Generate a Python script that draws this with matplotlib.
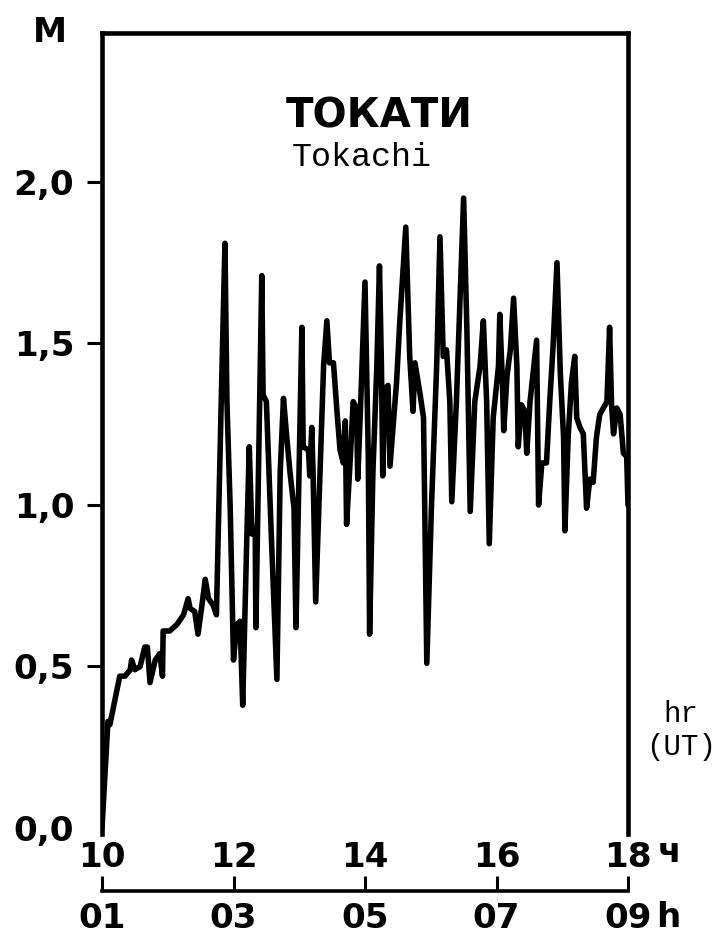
import matplotlib
matplotlib.use("Agg")
import matplotlib.pyplot as plt
from matplotlib import font_manager

# ---------------- data ----------------
hours_local = [
    10.00, 10.09, 10.12, 10.27, 10.35, 10.43, 10.45, 10.50, 10.58, 10.65, 10.69, 10.73,
    10.81, 10.88, 10.92, 10.93, 11.03, 11.14, 11.24, 11.31, 11.34, 11.41, 11.46, 11.52,
    11.57, 11.62, 11.69, 11.74, 11.82, 11.87, 11.90, 11.95, 12.00, 12.05, 12.10, 12.14,
    12.20, 12.24, 12.28, 12.33, 12.34, 12.43, 12.45, 12.50, 12.58, 12.66, 12.71, 12.76,
    12.81, 12.86, 12.92, 12.95, 13.04, 13.06, 13.14, 13.16, 13.19, 13.21, 13.25, 13.37,
    13.42, 13.46, 13.52, 13.57, 13.62, 13.67, 13.70, 13.72, 13.77, 13.82, 13.87, 13.89,
    13.93, 14.00, 14.05, 14.07, 14.12, 14.18, 14.22, 14.25, 14.27, 14.30, 14.35, 14.38,
    14.48, 14.53, 14.62, 14.68, 14.73, 14.76, 14.84, 14.89, 14.94, 15.01, 15.09, 15.14,
    15.19, 15.24, 15.29, 15.32, 15.39, 15.50, 15.55, 15.60, 15.67, 15.75, 15.80, 15.85,
    15.89, 15.95, 16.03, 16.05, 16.09, 16.11, 16.16, 16.21, 16.26, 16.31, 16.33, 16.38,
    16.43, 16.46, 16.51, 16.61, 16.64, 16.69, 16.76, 16.81, 16.86, 16.92, 16.97, 17.02,
    17.04, 17.09, 17.14, 17.19, 17.22, 17.27, 17.32, 17.37, 17.42, 17.47, 17.52, 17.57,
    17.68, 17.72, 17.75, 17.78, 17.83, 17.88, 17.93, 17.98, 18.00,
]
m_values = [
    0.00, 0.33, 0.32, 0.47, 0.47, 0.49, 0.52, 0.49, 0.50, 0.56, 0.56, 0.45,
    0.52, 0.54, 0.47, 0.61, 0.61, 0.63, 0.66, 0.71, 0.68, 0.67, 0.60, 0.69,
    0.77, 0.71, 0.69, 0.66, 1.38, 1.81, 1.32, 0.99, 0.52, 0.63, 0.64, 0.38,
    0.88, 1.18, 0.91, 0.93, 0.62, 1.71, 1.34, 1.32, 0.88, 0.46, 1.10, 1.33,
    1.21, 1.10, 0.99, 0.62, 1.55, 1.18, 1.17, 1.09, 1.24, 1.10, 0.70, 1.43,
    1.57, 1.44, 1.44, 1.30, 1.17, 1.13, 1.26, 0.94, 1.12, 1.32, 1.30, 1.08,
    1.29, 1.69, 1.15, 0.60, 1.10, 1.43, 1.74, 1.43, 1.09, 1.36, 1.37, 1.12,
    1.38, 1.57, 1.86, 1.46, 1.29, 1.44, 1.34, 1.27, 0.51, 0.99, 1.43, 1.83,
    1.46, 1.48, 1.32, 1.01, 1.32, 1.95, 1.54, 0.98, 1.32, 1.43, 1.57, 1.32,
    0.88, 1.27, 1.43, 1.59, 1.38, 1.23, 1.40, 1.48, 1.64, 1.43, 1.18, 1.31,
    1.29, 1.16, 1.32, 1.51, 1.00, 1.13, 1.13, 1.32, 1.49, 1.75, 1.41, 1.21,
    0.92, 1.21, 1.38, 1.46, 1.27, 1.24, 1.22, 0.99, 1.08, 1.07, 1.21, 1.28,
    1.32, 1.55, 1.31, 1.22, 1.30, 1.28, 1.16, 1.15, 1.00,
]
y_ticks = [0.0, 0.5, 1.0, 1.5, 2.0]
y_tick_labels = ["0,0", "0,5", "1,0", "1,5", "2,0"]
x_ticks_local = [10, 12, 14, 16, 18]
x_tick_labels_local = ["10", "12", "14", "16", "18"]
x_ticks_ut = [1, 3, 5, 7, 9]
x_tick_labels_ut = ["01", "03", "05", "07", "09"]
title_ru = "ТОКАТИ"
title_en = "Tokachi"
y_label = "M"

# ---------------- fonts ----------------
available = {f.name for f in font_manager.fontManager.ttflist}
if "Liberation Sans Narrow" in available:
    HAND = ["Liberation Sans Narrow", "DejaVu Sans"]
    hs = 1.0
else:
    HAND = ["DejaVu Sans"]
    hs = 0.82
MONO = ["Liberation Mono", "DejaVu Sans Mono"]

W, H = 722, 938
fig = plt.figure(figsize=(W / 100, H / 100), dpi=100)
fig.patch.set_facecolor("white")

ax_left, ax_right, ax_top, ax_bot = 102, 628, 33, 834
ax = fig.add_axes([ax_left / W, 1 - ax_bot / H, (ax_right - ax_left) / W, (ax_bot - ax_top) / H])
ax.plot(hours_local, m_values, color="black", lw=4.0, solid_joinstyle="round",
        solid_capstyle="round")

ax.set_xlim(10, 18)
ax.set_ylim(-0.0186, 2.461)

for side in ("left", "right", "top"):
    ax.spines[side].set_linewidth(3.3)
    ax.spines[side].set_color("black")
ax.spines["bottom"].set_visible(False)

ax.set_yticks(y_ticks)
ax.set_yticklabels(y_tick_labels, family=HAND, fontweight="bold", fontsize=30 * hs)
ax.tick_params(axis="y", direction="out", length=11, width=2.2, pad=9, color="black")
ax.yaxis.get_major_ticks()[0].tick1line.set_visible(False)

ax.set_xticks(x_ticks_local)
ax.set_xticklabels(x_tick_labels_local, family=HAND, fontweight="bold", fontsize=30 * hs)
ax.tick_params(axis="x", length=0, pad=5)

sec = ax.secondary_xaxis(-0.0712, functions=(lambda x: x - 9, lambda x: x + 9))
sec.set_xticks(x_ticks_ut)
sec.set_xticklabels(x_tick_labels_ut, family=HAND, fontweight="bold", fontsize=30 * hs)
sec.tick_params(axis="x", direction="in", length=11, width=2.2, pad=8)
sec.spines["bottom"].set_linewidth(2.6)

# unit letters
fig.text(658 / W, 1 - 852 / H, "ч", family=HAND, fontweight="bold", fontsize=30 * hs,
         ha="left", va="center")
fig.text(656 / W, 1 - 917 / H, "h", family=HAND, fontweight="bold", fontsize=30 * hs,
         ha="left", va="center")

# y label
fig.text(50 / W, 1 - 33 / H, y_label, family=HAND, fontweight="bold", fontsize=30 * hs,
         ha="center", va="center")

# titles
fig.text(379 / W, 1 - 116 / H, title_ru, family=["DejaVu Sans"], fontweight="bold",
         fontsize=29, ha="center", va="center")
fig.text(362 / W, 1 - 158 / H, title_en, family=MONO, fontsize=24,
         ha="center", va="center")

# time unit at right
fig.text(681 / W, 1 - 714 / H, "hr", family=MONO, fontsize=21, ha="center", va="center")
fig.text(681 / W, 1 - 747 / H, "(UT)", family=MONO, fontsize=21, ha="center", va="center")

fig.savefig("out.png", dpi=100, facecolor="white")
